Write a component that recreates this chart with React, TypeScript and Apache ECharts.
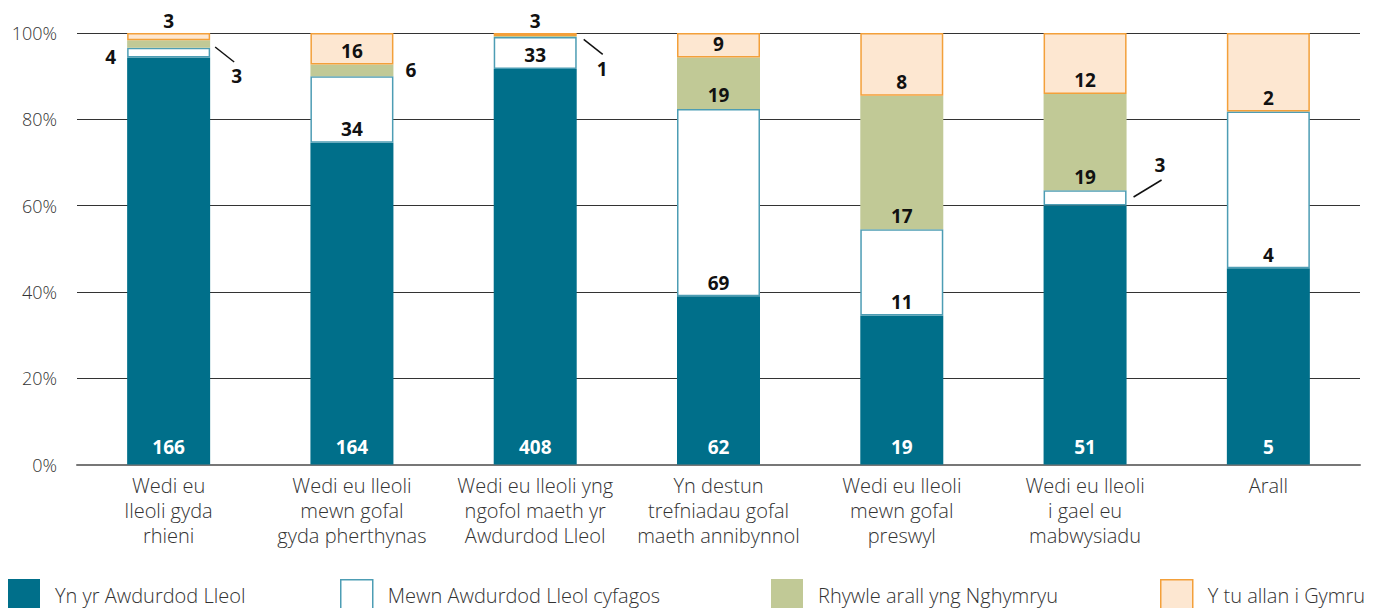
import React, { useEffect, useRef } from "react";
import * as echarts from "echarts";

const categories = [
  "Wedi eu\nlleoli gyda\nrhieni",
  "Wedi eu lleoli\nmewn gofal\ngyda pherthynas",
  "Wedi eu lleoli yng\nngofol maeth yr\nAwdurdod Lleol",
  "Yn destun\ntrefniadau gofal\nmaeth annibynnol",
  "Wedi eu lleoli\nmewn gofal\npreswyl",
  "Wedi eu lleoli\ni gael eu\nmabwysiadu",
  "Arall",
];

const seriesNames = [
  "Yn yr Awdurdod Lleol",
  "Mewn Awdurdod Lleol cyfagos",
  "Rhywle arall yng Nghymryu",
  "Y tu allan i Gymru",
];

const inLocalAuthority = [166, 164, 408, 62, 19, 51, 5];
const neighbouringAuthority = [4, 34, 33, 69, 11, 3, 4];
const elsewhereInWales = [3, 6, 1, 19, 17, 19, 0];
const outsideWales = [3, 16, 3, 9, 8, 12, 2];

const yTickStep = 20;

const counts = [inLocalAuthority, neighbouringAuthority, elsewhereInWales, outsideWales];
const totals = categories.map((_, i) => counts.reduce((s, arr) => s + arr[i], 0));

const FONT = "'Open Sans', Lato, sans-serif";

export default function App() {
  const ref = useRef<HTMLDivElement>(null);

  useEffect(() => {
    const chart = echarts.init(ref.current!, null, { renderer: "svg" });

    const styles = [
      { color: "#006f8a", borderColor: "#006f8a", borderWidth: 0 },
      { color: "#ffffff", borderColor: "#4d9db4", borderWidth: 1.5 },
      { color: "#c1c996", borderColor: "#c9d0a4", borderWidth: 0 },
      { color: "#fde7d1", borderColor: "#f3a03a", borderWidth: 1.5 },
    ];

    const baseLabel = {
      show: true,
      position: "insideBottom",
      distance: 4,
      fontFamily: FONT,
      fontWeight: "bold",
      fontSize: 19,
      color: "#111",
      formatter: (p: any) => String(p.data.count),
    };

    const overrides: Record<string, any> = {
      "1-0": { position: "left", distance: 11, offset: [0, 4] },
      "2-0": { position: "right", distance: 21, offset: [0, 32] },
      "3-0": { position: "top", distance: 3 },
      "2-1": { position: "right", distance: 12 },
      "3-2": { position: "top", distance: 3 },
      "2-2": { position: "right", distance: 20, offset: [0, 33] },
      "1-5": { position: "right", distance: 28, offset: [0, -33] },
    };

    const series = counts.map((arr, s) => ({
      name: seriesNames[s],
      type: "bar",
      stack: "total",
      barWidth: 83,
      itemStyle: styles[s],
      label: s === 0 ? { ...baseLabel, color: "#ffffff", distance: 8 } : baseLabel,
      emphasis: { disabled: true },
      data: arr.map((c, i) => {
        const item: any = { value: (c / totals[i]) * 100, count: c };
        if (c === 0) item.label = { show: false };
        const o = overrides[`${s}-${i}`];
        if (o) item.label = o;
        return item;
      }),
    }));

    const legendLefts = [8, 340, 771, 1160];
    const legend = seriesNames.map((name, s) => ({
      data: [name],
      left: legendLefts[s],
      top: 579,
      padding: 0,
      itemWidth: 32,
      itemHeight: 32,
      icon: "rect",
      selectedMode: false,
      itemStyle: {
        color: styles[s].color,
        borderColor: styles[s].borderColor,
        borderWidth: s === 1 || s === 3 ? 1.5 : 0,
      },
      textStyle: {
        fontFamily: FONT,
        fontWeight: 300,
        fontSize: 20,
        color: "#333",
        padding: [0, 0, 0, 10],
      },
    }));

    chart.setOption({
      animation: false,
      grid: { left: 77, right: 18, top: 33, bottom: 608 - 464.5 },
      legend,
      xAxis: {
        type: "category",
        data: categories,
        axisTick: { show: false },
        axisLine: { lineStyle: { color: "#777", width: 2 } },
        axisLabel: {
          interval: 0,
          fontFamily: FONT,
          fontWeight: 300,
          fontSize: 20,
          lineHeight: 25,
          color: "#333",
          margin: 8,
        },
      },
      yAxis: {
        type: "value",
        min: 0,
        max: 100,
        interval: yTickStep,
        axisLabel: {
          formatter: "{value}%",
          fontFamily: FONT,
          fontWeight: 300,
          fontSize: 18,
          color: "#333",
          margin: 20,
        },
        axisLine: { show: false },
        axisTick: { show: false },
        splitLine: { lineStyle: { color: "#333", width: 1 } },
      },
      series,
    });

    const leaders = [
      { s: 2, i: 0, from: [5, 3], to: [24, 18] },
      { s: 2, i: 2, from: [7, 3], to: [26, 18] },
      { s: 1, i: 5, from: [7, -1], to: [35, -18] },
    ];
    const graphic = leaders.map(({ s, i, from, to }) => {
      let below = 0;
      for (let k = 0; k < s; k++) below += counts[k][i];
      const mid = ((below + counts[s][i] / 2) / totals[i]) * 100;
      const [cx, cy] = chart.convertToPixel({ gridIndex: 0 }, [i, mid]) as number[];
      const right = cx + 41.5;
      return {
        type: "line",
        shape: { x1: right + from[0], y1: cy + from[1], x2: right + to[0], y2: cy + to[1] },
        style: { stroke: "#111", lineWidth: 1.5 },
      };
    });
    chart.setOption({ graphic });

    return () => chart.dispose();
  }, []);

  return (
    <div
      ref={ref}
      style={{ position: "absolute", left: 0, top: 0, width: 1378, height: 608 }}
    />
  );
}
